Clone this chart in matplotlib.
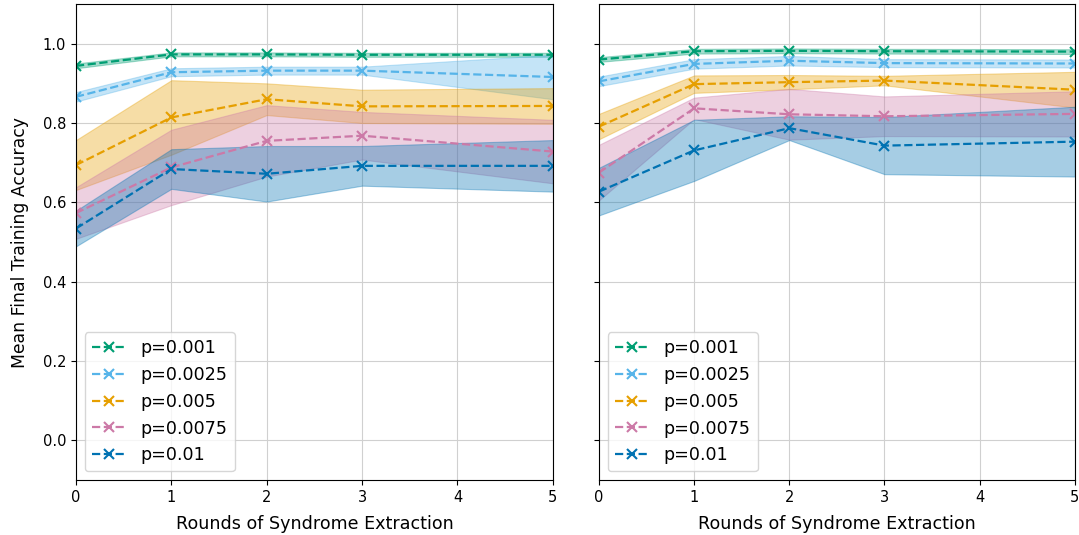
import matplotlib
matplotlib.use("Agg")
import matplotlib.pyplot as plt
import numpy as np

rounds = [0, 1, 2, 3, 5]
labels = ["p=0.001", "p=0.0025", "p=0.005", "p=0.0075", "p=0.01"]
colors = ["#009E73", "#56B4E9", "#E69F00", "#CC79A7", "#0072B2"]

# Left panel: means and band half-widths
left_mean = [
    [0.944, 0.973, 0.973, 0.972, 0.972],
    [0.866, 0.928, 0.932, 0.932, 0.916],
    [0.694, 0.814, 0.860, 0.842, 0.843],
    [0.573, 0.688, 0.755, 0.768, 0.728],
    [0.534, 0.684, 0.672, 0.692, 0.692],
]
left_err = [
    [0.006, 0.005, 0.005, 0.005, 0.005],
    [0.012, 0.010, 0.010, 0.010, 0.056],
    [0.063, 0.094, 0.040, 0.042, 0.045],
    [0.065, 0.095, 0.090, 0.060, 0.080],
    [0.045, 0.050, 0.070, 0.050, 0.065],
]

# Right panel
right_mean = [
    [0.960, 0.981, 0.982, 0.981, 0.980],
    [0.905, 0.949, 0.957, 0.951, 0.950],
    [0.791, 0.898, 0.903, 0.907, 0.884],
    [0.675, 0.837, 0.822, 0.817, 0.823],
    [0.627, 0.731, 0.787, 0.743, 0.753],
]
right_err = [
    [0.006, 0.006, 0.006, 0.006, 0.006],
    [0.012, 0.012, 0.012, 0.010, 0.010],
    [0.032, 0.022, 0.018, 0.012, 0.045],
    [0.070, 0.027, 0.064, 0.050, 0.057],
    [0.060, 0.077, 0.030, 0.072, 0.088],
]

fig = plt.figure(figsize=(10.79, 5.35), dpi=100)
ax1 = fig.add_axes([0.0704, 0.1028, 0.442, 0.8897])
ax2 = fig.add_axes([0.5551, 0.1028, 0.441, 0.8897], sharey=ax1)

for ax, means, errs in [(ax1, left_mean, left_err), (ax2, right_mean, right_err)]:
    for lab, col, m, e in zip(labels, colors, means, errs):
        m = np.array(m)
        e = np.array(e)
        ax.fill_between(rounds, m - e, m + e, color=col, alpha=0.35, linewidth=0.8)
        ax.plot(rounds, m, linestyle="--", marker="x", color=col, label=lab,
                linewidth=1.6, markersize=7, markeredgewidth=1.5)
    ax.set_xlim(0, 5)
    ax.set_ylim(-0.1, 1.1)
    ax.set_xticks([0, 1, 2, 3, 4, 5])
    ax.set_yticks([0.0, 0.2, 0.4, 0.6, 0.8, 1.0])
    ax.grid(True, color="#d0d0d0", linewidth=0.8)
    ax.set_axisbelow(True)
    ax.set_xlabel("Rounds of Syndrome Extraction", fontsize=12.6, labelpad=7.5)
    ax.tick_params(labelsize=10.5)
    ax.legend(loc="lower left", fontsize=12.6)

ax1.set_ylabel("Mean Final Training Accuracy", fontsize=12.4, labelpad=10)
plt.setp(ax2.get_yticklabels(), visible=False)

fig.savefig("out.png", dpi=100)
